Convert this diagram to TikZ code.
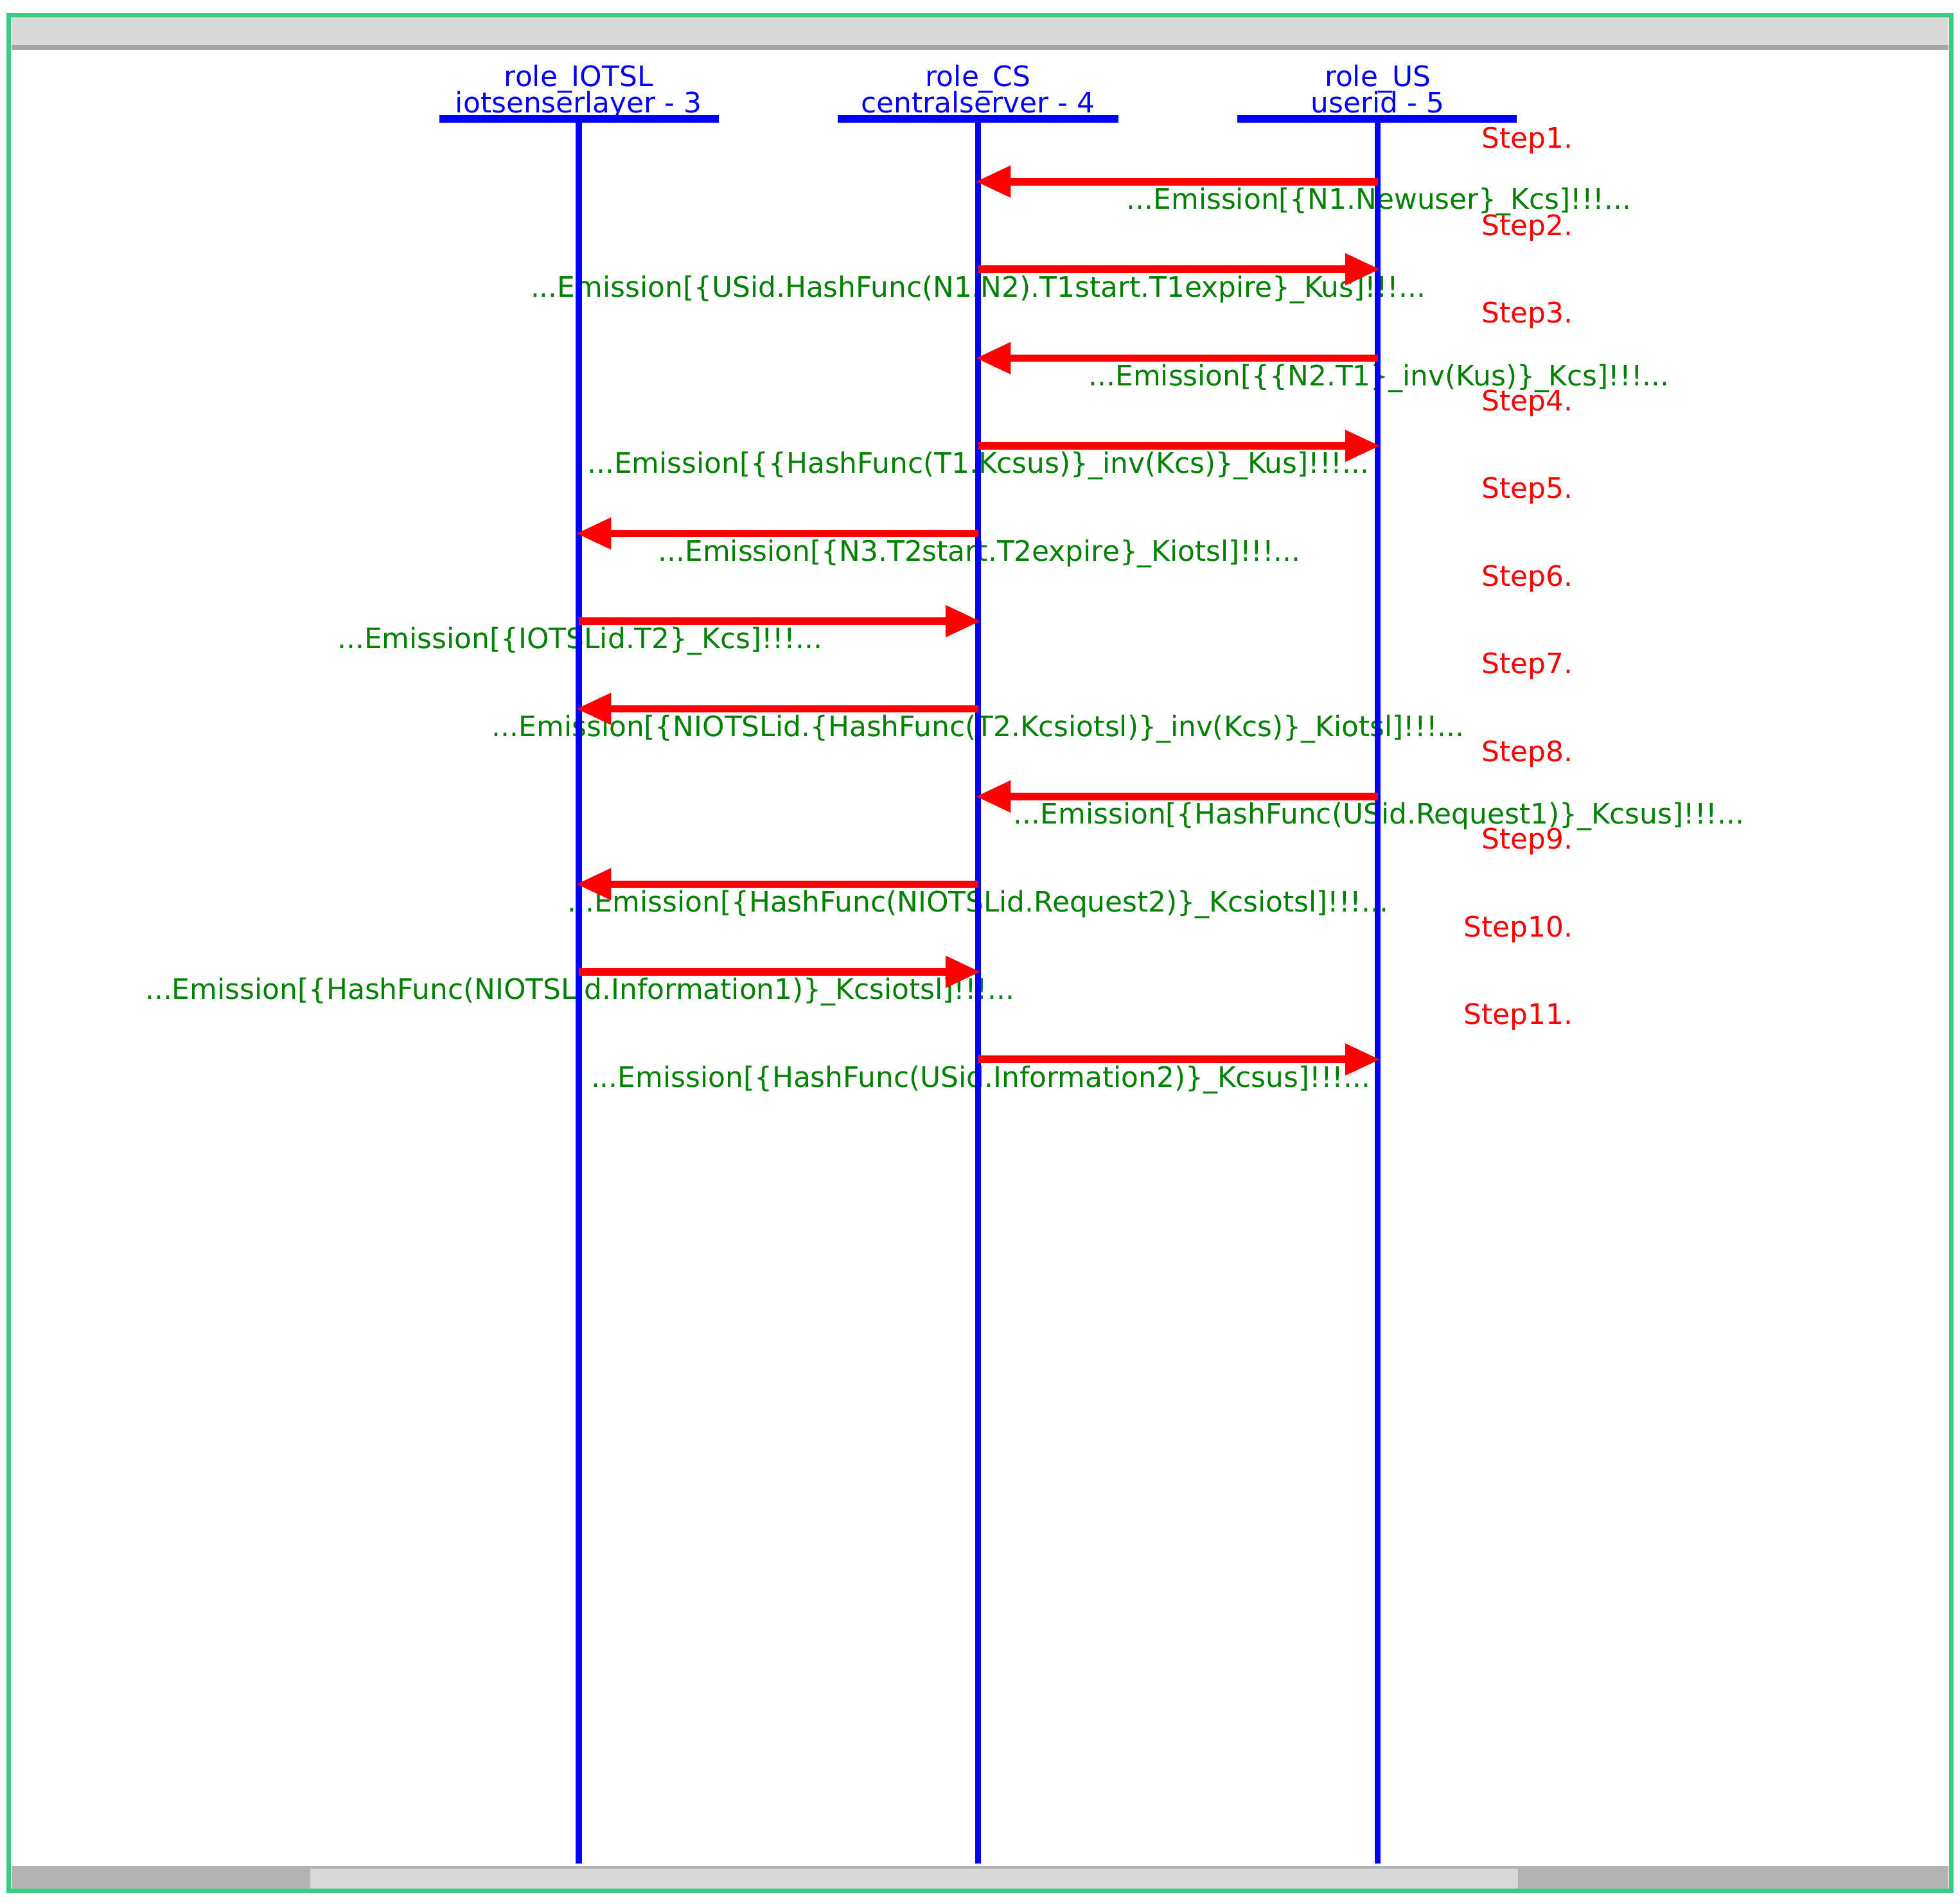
\documentclass[tikz,border=0pt]{standalone}
\usepackage{fontspec}
\setmainfont{DejaVu Sans}
\usetikzlibrary{arrows.meta}
\definecolor{frameg}{HTML}{3CCB82}
\definecolor{msgg}{HTML}{008000}
\definecolor{barg}{HTML}{D9D9D9}
\definecolor{darkg}{HTML}{B3B3B3}
\begin{document}
\begin{tikzpicture}[x=1pt,y=-1pt,
  life/.style={blue,line width=5pt},
  head/.style={blue,line width=6pt},
  rolet/.style={blue,font=\fontsize{22.5}{22.5}\selectfont,inner sep=0pt,anchor=base},
  msg/.style={red,line width=6pt,-{Triangle[length=28pt,width=24pt]},shorten >=-2pt},
  lab/.style={msgg,font=\fontsize{22.5}{22.5}\selectfont,inner sep=0pt,anchor=base},
  steplab/.style={red,font=\fontsize{22.5}{22.5}\selectfont,inner sep=0pt,anchor=base east}]
\useasboundingbox (0,0) rectangle (1565,1520);
% window
\fill[barg] (9,14) rectangle (1556,38);
\fill[gray!70] (9,36) rectangle (1556,40);
\fill[darkg] (9,1490) rectangle (1556,1508);
\fill[barg] (248,1492) rectangle (1212,1508);
\draw[frameg,line width=3.5pt] (7,12) rectangle (1558,1510);
% lifeline coordinates
\coordinate (I0) at (462,96); \coordinate (I1) at (462,1488);
\coordinate (C0) at (781,96); \coordinate (C1) at (781,1488);
\coordinate (U0) at (1100,96); \coordinate (U1) at (1100,1488);
% headers
\node[rolet] (hI1) at (462,69) {role\_IOTSL};
\node[rolet] (hI2) at (462,90) {iotsenserlayer - 3};
\node[rolet] (hC1) at (781,69) {role\_CS};
\node[rolet] (hC2) at (781,90) {centralserver - 4};
\node[rolet] (hU1) at (1100,69) {role\_US};
\node[rolet] (hU2) at (1100,90) {userid - 5};
\draw[head] (351,95) -- (574,95);
\draw[head] (669,95) -- (893,95);
\draw[head] (988,95) -- (1211,95);
% steps
\foreach \i [count=\k from 0] in {1,...,11}
  \node[steplab] (s\i) at (1256,118+70*\k) {Step\i.};
% labels
\node[lab] (l1) at (1101,167) {...Emission[\{N1.Newuser\}\_Kcs]!!!...};
\node[lab] (l2) at (781,237) {...Emission[\{USid.HashFunc(N1.N2).T1start.T1expire\}\_Kus]!!!...};
\node[lab] (l3) at (1101,308) {...Emission[\{\{N2.T1\}\_inv(Kus)\}\_Kcs]!!!...};
\node[lab] (l4) at (781,378) {...Emission[\{\{HashFunc(T1.Kcsus)\}\_inv(Kcs)\}\_Kus]!!!...};
\node[lab] (l5) at (782,448) {...Emission[\{N3.T2start.T2expire\}\_Kiotsl]!!!...};
\node[lab] (l6) at (463,518) {...Emission[\{IOTSLid.T2\}\_Kcs]!!!...};
\node[lab] (l7) at (781,588) {...Emission[\{NIOTSLid.\{HashFunc(T2.Kcsiotsl)\}\_inv(Kcs)\}\_Kiotsl]!!!...};
\node[lab] (l8) at (1101,658) {...Emission[\{HashFunc(USid.Request1)\}\_Kcsus]!!!...};
\node[lab] (l9) at (781,728) {...Emission[\{HashFunc(NIOTSLid.Request2)\}\_Kcsiotsl]!!!...};
\node[lab] (l10) at (463,798) {...Emission[\{HashFunc(NIOTSLid.Information1)\}\_Kcsiotsl]!!!...};
\node[lab] (l11) at (783,868) {...Emission[\{HashFunc(USid.Information2)\}\_Kcsus]!!!...};
% lifelines
\draw[life] (I0) -- (I1);
\draw[life] (C0) -- (C1);
\draw[life] (U0) -- (U1);
% message coordinates
\foreach \n/\y in {1/145,2/215,3/286,4/356,5/426,6/496,7/566,8/636,9/706,10/776,11/846}{
  \coordinate (i\n) at (462,\y);
  \coordinate (c\n) at (781,\y);
  \coordinate (u\n) at (1100,\y);
}
\draw[msg] (u1) -- (c1);
\draw[msg] (c2) -- (u2);
\draw[msg] (u3) -- (c3);
\draw[msg] (c4) -- (u4);
\draw[msg] (c5) -- (i5);
\draw[msg] (i6) -- (c6);
\draw[msg] (c7) -- (i7);
\draw[msg] (u8) -- (c8);
\draw[msg] (c9) -- (i9);
\draw[msg] (i10) -- (c10);
\draw[msg] (c11) -- (u11);
\end{tikzpicture}
\end{document}
